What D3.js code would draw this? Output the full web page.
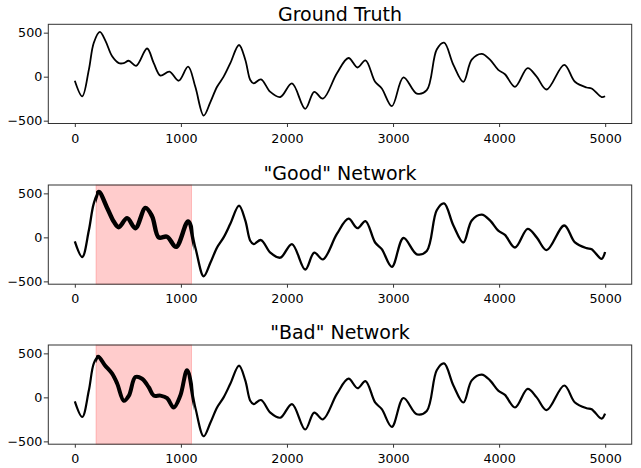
<!DOCTYPE html>
<html>
<head>
<meta charset="utf-8">
<script src="https://cdn.jsdelivr.net/npm/d3@7"></script>
<style>
  body { margin: 0; background: #fff; }
  text { font-family: "DejaVu Sans", sans-serif; fill: #000; }
  .axis path, .axis line { stroke: #333; }
</style>
</head>
<body>
<div id="chart"></div>
<script>
// ground truth
const truthX = [0, 70, 132, 179, 236, 290, 352, 415, 462, 508, 578, 681, 744, 807, 892, 979,
  1068, 1136, 1215, 1278, 1341, 1403, 1466, 1548, 1607, 1654, 1686, 1755, 1843, 1937, 2047,
  2172, 2257, 2339, 2471, 2580, 2665, 2740, 2831, 2894, 2989, 3098, 3224, 3318, 3412, 3481,
  3569, 3663, 3742, 3836, 3914, 3992, 4055, 4150, 4269, 4354, 4448, 4614, 4715, 4825, 4872,
  4966, 4999];
const truthY = [-46, -223, 77, 386, 508, 404, 231, 154, 154, 181, 124, 320, 154, 12, 58, -46,
  115, -115, -442, -289, -115, 0, 154, 360, 193, -38, -76, -30, -173, -231, -76,
  -365, -173, -250, 39, 212, 104, 185, -58, -134, -335, -7, -192, -154, 308, 386,
  135, -58, 193, 259, 193, 77, 28, -115, 97, 0, -146, 135, -58, -123, -134,
  -231, -223];

// highlighted window
const spanX = [200, 1100];

// "good" network inside the window
const goodX = [226, 305, 367, 414, 493, 571, 666, 729, 791, 870, 955, 1068];
const goodY = [515, 335, 180, 115, 219, 104, 335, 238, 0, 8, -108, 180];
// "bad" network inside the window
const badX = [220, 283, 352, 400, 462, 510, 571, 634, 697, 744, 807, 870, 932, 995, 1058];
const badY = [462, 366, 270, 155, -38, 20, 231, 212, 115, 20, 20, -8, -115, 20, 308];

// last points where the networks leave the truth
const goodTailX = [4966, 4999];
const goodTailY = [-243, -166];
const badTailX = [4966, 4999];
const badTailY = [-242, -185];

const xTicks = [0, 1000, 2000, 3000, 4000, 5000];
const yTicks = [-500, 0, 500];
const titles = ["Ground Truth", "\"Good\" Network", "\"Bad\" Network"];

function zip(xs, ys) {
  return xs.map((x, i) => ({ x: x, y: ys[i] }));
}

function merge(winX, winY, tailX, tailY) {
  const base = zip(truthX, truthY).filter(d =>
    (d.x < spanX[0] || d.x > spanX[1]) && tailX.indexOf(d.x) < 0);
  return base.concat(zip(winX, winY), zip(tailX, tailY)).sort((a, b) => a.x - b.x);
}

const series = [
  zip(truthX, truthY),
  merge(goodX, goodY, goodTailX, goodTailY),
  merge(badX, badY, badTailX, badTailY)
];

const width = 641, height = 468;
const left = 48.3, right = 631.7, panelH = 99.2;
const tops = [24.3, 185, 345];
const titleY = [20.7, 179.5, 338.5];
const lineW = [1.8, 2.3, 2.2];
const noisyW = [1.8, 4.4, 4.0];

const svg = d3.select("#chart").append("svg")
  .attr("width", width).attr("height", height);

const x = d3.scaleLinear().domain([-250, 5250]).range([left, right]);

series.forEach((data, i) => {
  const top = tops[i];
  const y = d3.scaleLinear().domain([-532, 595]).range([top + panelH, top]);
  const g = svg.append("g");

  if (i > 0) {
    g.append("rect")
      .attr("x", x(spanX[0])).attr("y", top)
      .attr("width", x(spanX[1]) - x(spanX[0])).attr("height", panelH)
      .attr("fill", "rgba(255,0,0,0.2)")
      .attr("stroke", "rgba(255,0,0,0.2)").attr("stroke-width", 1);
  }

  const line = d3.line().x(d => x(d.x)).y(d => y(d.y))
    .curve(d3.curveCatmullRom.alpha(0.5));

  g.append("path").datum(data)
    .attr("d", line).attr("fill", "none")
    .attr("stroke", "#000").attr("stroke-width", lineW[i])
    .attr("stroke-linejoin", "round");

  if (i > 0) {
    // the noisy stretch inside the window reads as a thicker band
    const clipId = "clip" + i;
    svg.append("clipPath").attr("id", clipId).append("rect")
      .attr("x", x(spanX[0])).attr("y", top)
      .attr("width", x(spanX[1]) - x(spanX[0]) + 2).attr("height", panelH);
    g.append("path").datum(data)
      .attr("d", line).attr("fill", "none")
      .attr("clip-path", "url(#" + clipId + ")")
      .attr("stroke", "#000").attr("stroke-width", noisyW[i])
      .attr("stroke-linejoin", "round");
  }

  g.append("rect")
    .attr("x", left).attr("y", top)
    .attr("width", right - left).attr("height", panelH)
    .attr("fill", "none").attr("stroke", "#333").attr("stroke-width", 1);

  const xAxis = d3.axisBottom(x).tickValues(xTicks).tickSize(3.5).tickPadding(6.5)
    .tickSizeOuter(0).tickFormat(d3.format("d"));
  const yAxis = d3.axisLeft(y).tickValues(yTicks).tickSize(4.5).tickPadding(1.5)
    .tickSizeOuter(0).tickFormat(d3.format("d"));

  const gx = g.append("g").attr("class", "axis")
    .attr("transform", `translate(0, ${top + panelH})`).call(xAxis);
  gx.select(".domain").remove();
  gx.selectAll("text").attr("font-size", "12.7px").attr("fill", "#000");

  const gy = g.append("g").attr("class", "axis")
    .attr("transform", `translate(${left}, 0)`).call(yAxis);
  gy.select(".domain").remove();
  gy.selectAll("text").attr("font-size", "12.7px").attr("fill", "#000");

  g.append("text")
    .attr("x", (left + right) / 2).attr("y", titleY[i])
    .attr("text-anchor", "middle").attr("font-size", "19px")
    .text(titles[i]);
});
</script>
</body>
</html>
